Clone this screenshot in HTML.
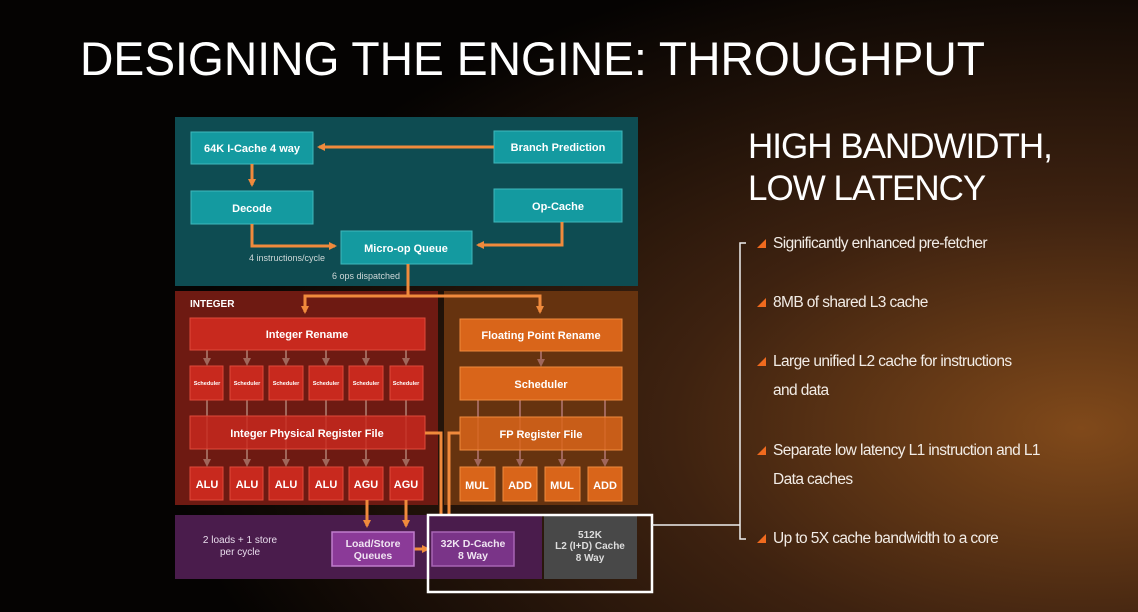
<!DOCTYPE html>
<html><head><meta charset="utf-8"><style>
html,body{margin:0;padding:0;width:1138px;height:612px;overflow:hidden;background:#000}
</style></head><body>
<svg width="1138" height="612" xmlns="http://www.w3.org/2000/svg" font-family="Liberation Sans, sans-serif">
<defs>
<radialGradient id="bg" cx="0.95" cy="0.7" r="0.8">
<stop offset="0" stop-color="#80491a"/><stop offset="0.45" stop-color="#3e2210"/><stop offset="1" stop-color="#050302"/>
</radialGradient>
<marker id="ar" markerWidth="8" markerHeight="8" refX="6" refY="4" orient="auto" markerUnits="userSpaceOnUse"><path d="M0,0 L8,4 L0,8 z" fill="#f08a3c"/></marker>
<marker id="ag" markerWidth="8" markerHeight="8" refX="6" refY="4" orient="auto" markerUnits="userSpaceOnUse"><path d="M0,0 L8,4 L0,8 z" fill="#a0665a"/></marker>
</defs>
<rect width="1138" height="612" fill="url(#bg)"/>
<text x="80" y="75" fill="#fff" font-size="47" textLength="905" lengthAdjust="spacingAndGlyphs">DESIGNING THE ENGINE: THROUGHPUT</text>

<!-- teal -->
<rect x="175" y="117" width="463" height="169" fill="#0e4c52"/>
<g fill="#149aa0" stroke="#3fb8bc" stroke-width="1">
<rect x="191" y="132" width="122" height="32"/><rect x="494" y="131" width="128" height="32"/>
<rect x="191" y="191" width="122" height="33"/><rect x="494" y="189" width="128" height="33"/>
<rect x="341" y="231" width="131" height="33"/></g>
<g fill="#fff" font-size="11" font-weight="bold" text-anchor="middle">
<text x="252" y="152">64K I-Cache 4 way</text><text x="558" y="151">Branch Prediction</text>
<text x="252" y="212">Decode</text><text x="558" y="210">Op-Cache</text><text x="406" y="252">Micro-op Queue</text></g>
<g stroke="#f08a3c" stroke-width="3" fill="none">
<line x1="494" y1="147" x2="319" y2="147" marker-end="url(#ar)"/>
<line x1="252" y1="164" x2="252" y2="185" marker-end="url(#ar)"/>
<polyline points="252,224 252,246 335,246" marker-end="url(#ar)"/>
<polyline points="562,222 562,245 478,245" marker-end="url(#ar)"/>
<polyline points="408,264 408,296"/>
</g>
<text x="249" y="261" fill="#cfd8d8" font-size="9">4 instructions/cycle</text>
<text x="332" y="279" fill="#cfd8d8" font-size="9">6 ops dispatched</text>

<!-- integer -->
<rect x="175" y="291" width="263" height="214" fill="#6e1a12"/>
<rect x="444" y="291" width="194" height="214" fill="#66330f"/>
<g stroke="#f08a3c" stroke-width="3" fill="none">
<polyline points="408,286 408,296 305,296 305,312" marker-end="url(#ar)"/>
<polyline points="408,296 540,296 540,312" marker-end="url(#ar)"/>
</g>
<text x="190" y="307" fill="#fff" font-size="10" font-weight="bold">INTEGER</text>
<g stroke="#a0665a" stroke-width="2">
<line x1="207" y1="350" x2="207" y2="364" marker-end="url(#ag)"/><line x1="247" y1="350" x2="247" y2="364" marker-end="url(#ag)"/>
<line x1="286" y1="350" x2="286" y2="364" marker-end="url(#ag)"/><line x1="326" y1="350" x2="326" y2="364" marker-end="url(#ag)"/>
<line x1="366" y1="350" x2="366" y2="364" marker-end="url(#ag)"/><line x1="406" y1="350" x2="406" y2="364" marker-end="url(#ag)"/>
<line x1="207" y1="400" x2="207" y2="465" marker-end="url(#ag)"/><line x1="247" y1="400" x2="247" y2="465" marker-end="url(#ag)"/>
<line x1="286" y1="400" x2="286" y2="465" marker-end="url(#ag)"/><line x1="326" y1="400" x2="326" y2="465" marker-end="url(#ag)"/>
<line x1="366" y1="400" x2="366" y2="465" marker-end="url(#ag)"/><line x1="406" y1="400" x2="406" y2="465" marker-end="url(#ag)"/>
<line x1="541" y1="351" x2="541" y2="365" marker-end="url(#ag)"/>
<line x1="478" y1="400" x2="478" y2="465" marker-end="url(#ag)"/><line x1="520" y1="400" x2="520" y2="465" marker-end="url(#ag)"/>
<line x1="562" y1="400" x2="562" y2="465" marker-end="url(#ag)"/><line x1="605" y1="400" x2="605" y2="465" marker-end="url(#ag)"/>
</g>
<g fill="#c8291e" stroke="#e0493a" stroke-width="1">
<rect x="190" y="318" width="235" height="32"/>
<rect x="190" y="366" width="33" height="34"/><rect x="230" y="366" width="33" height="34"/><rect x="269" y="366" width="34" height="34"/>
<rect x="309" y="366" width="34" height="34"/><rect x="349" y="366" width="34" height="34"/><rect x="390" y="366" width="33" height="34"/>
<rect x="190" y="416" width="235" height="33" fill-opacity="0.85"/>
<rect x="190" y="467" width="33" height="33"/><rect x="230" y="467" width="33" height="33"/><rect x="269" y="467" width="34" height="33"/>
<rect x="309" y="467" width="34" height="33"/><rect x="349" y="467" width="34" height="33"/><rect x="390" y="467" width="33" height="33"/>
</g>
<g fill="#d9651a" stroke="#f08a3c" stroke-width="1">
<rect x="460" y="319" width="162" height="32"/><rect x="460" y="367" width="162" height="33"/>
<rect x="460" y="417" width="162" height="33" fill-opacity="0.85"/>
<rect x="460" y="467" width="35" height="34"/><rect x="503" y="467" width="34" height="34"/>
<rect x="545" y="467" width="35" height="34"/><rect x="588" y="467" width="34" height="34"/>
</g>
<g fill="#fff" font-weight="bold" text-anchor="middle">
<text x="307" y="338" font-size="11">Integer Rename</text>
<g font-size="5.5"><text x="207" y="385">Scheduler</text><text x="247" y="385">Scheduler</text><text x="286" y="385">Scheduler</text><text x="326" y="385">Scheduler</text><text x="366" y="385">Scheduler</text><text x="406" y="385">Scheduler</text></g>
<text x="307" y="437" font-size="11">Integer Physical Register File</text>
<g font-size="11"><text x="207" y="488">ALU</text><text x="247" y="488">ALU</text><text x="286" y="488">ALU</text><text x="326" y="488">ALU</text><text x="366" y="488">AGU</text><text x="406" y="488">AGU</text>
<text x="541" y="339">Floating Point Rename</text><text x="541" y="388">Scheduler</text><text x="541" y="438">FP Register File</text>
<text x="477" y="489">MUL</text><text x="520" y="489">ADD</text><text x="562" y="489">MUL</text><text x="605" y="489">ADD</text></g>
</g>

<!-- bottom -->
<rect x="175" y="515" width="367" height="64" fill="#4a1c4c"/>
<rect x="544" y="516" width="93" height="63" fill="#484848"/>
<g stroke="#f08a3c" stroke-width="3" fill="none">
<polyline points="425,433 441,433 441,515"/>
<polyline points="460,433 449,433 449,515"/>
<line x1="367" y1="500" x2="367" y2="526" marker-end="url(#ar)"/>
<line x1="406" y1="500" x2="406" y2="526" marker-end="url(#ar)"/>
<line x1="414" y1="549" x2="428" y2="549" marker-end="url(#ar)"/>
</g>
<rect x="332" y="532" width="82" height="34" fill="#8b3a98" stroke="#c07ccc" stroke-width="1.5"/>
<rect x="432" y="532" width="82" height="34" fill="#7a3488" stroke="#a864b4" stroke-width="1.5"/>
<g fill="#e8dcec" font-size="10" text-anchor="middle">
<text x="240" y="543">2 loads + 1 store</text><text x="240" y="555">per cycle</text></g>
<g fill="#f0e4f2" font-size="10.5" font-weight="bold" text-anchor="middle">
<text x="373" y="547">Load/Store</text><text x="373" y="559">Queues</text>
<text x="473" y="547">32K D-Cache</text><text x="473" y="559">8 Way</text></g>
<g fill="#ddd" font-size="10" font-weight="bold" text-anchor="middle">
<text x="590" y="538">512K</text><text x="590" y="549">L2 (I+D) Cache</text><text x="590" y="561">8 Way</text></g>
<rect x="428" y="515" width="224" height="77" fill="none" stroke="#fff" stroke-width="2.5"/>

<!-- right -->
<g fill="#fff" font-size="35"><text x="748" y="158" letter-spacing="-1">HIGH BANDWIDTH,</text><text x="748" y="200" letter-spacing="-1">LOW LATENCY</text></g>
<g stroke="#eee" stroke-width="1.5" fill="none">
<polyline points="746,243 740,243 740,539 746,539"/>
<line x1="652" y1="525" x2="740" y2="525"/>
</g>
<g fill="#f06a1e">
<path d="M757,248 L766,248 L766,239 z"/><path d="M757,307 L766,307 L766,298 z"/>
<path d="M757,366 L766,366 L766,357 z"/><path d="M757,455 L766,455 L766,446 z"/>
<path d="M757,543 L766,543 L766,534 z"/></g>
<g fill="#f2ece6" font-size="15.5" letter-spacing="-0.6">
<text x="773" y="248">Significantly enhanced pre-fetcher</text>
<text x="773" y="307">8MB of shared L3 cache</text>
<text x="773" y="366">Large unified L2 cache for instructions</text>
<text x="773" y="395">and data</text>
<text x="773" y="455">Separate low latency  L1 instruction and L1</text>
<text x="773" y="484">Data caches</text>
<text x="773" y="543">Up to 5X cache bandwidth to a core</text>
</g>
</svg>
</body></html>
